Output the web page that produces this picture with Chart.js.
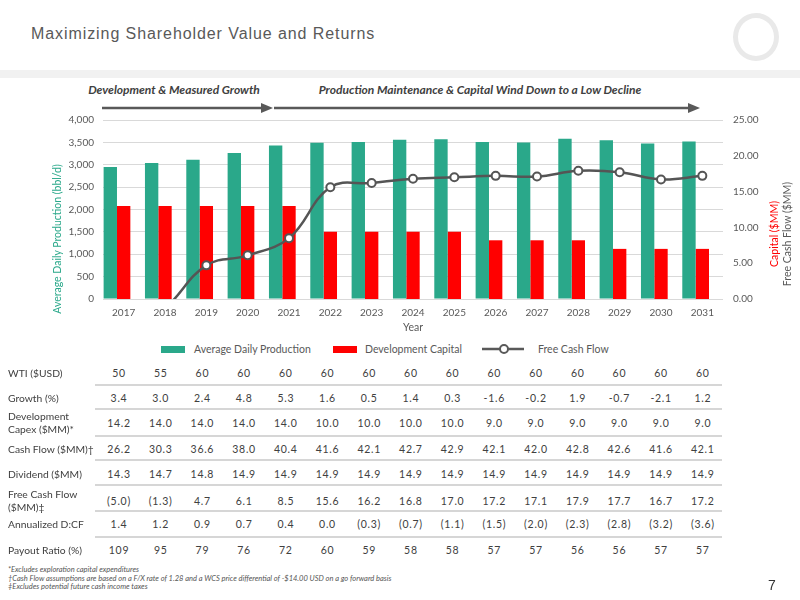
<!DOCTYPE html>
<html>
<head>
<meta charset="utf-8">
<script src="https://cdn.jsdelivr.net/npm/chart.js@4"></script>
<style>
  html, body { margin:0; padding:0; background:#fff; }
  body { width:800px; height:600px; position:relative; overflow:hidden; font-family: Lato, "Open Sans", sans-serif; color:#404040; }
  .abs { position:absolute; white-space:nowrap; }
  #title { left:31px; top:25px; font-family:"Liberation Sans",Arial,sans-serif; font-size:16px; letter-spacing:0.92px; color:#595959; }
  #band { left:0; top:70px; width:800px; height:8px; background:#f1f1f1; }
  #logo { left:733px; top:13px; width:36px; height:38px; border:5.5px solid #e9e9e9; border-radius:50%; }
  .phase { font-weight:bold; font-style:italic; font-size:12px; color:#404040; transform:translate(-50%,-50%); }
  .rot { transform:translate(-50%,-50%) rotate(-90deg); font-size:10.5px; }
  .lg { font-size:10.5px; color:#595959; transform:translateY(-50%); }
  .lbl { font-size:10.3px; color:#404040; left:8px; line-height:13px; transform:translateY(-50%); }
  .val { font-size:10.5px; color:#404040; letter-spacing:0.7px; transform:translate(-50%,-50%); }
  .sep { left:95px; width:627px; height:2px; background:#d6d6d6; }
  .fn { left:8px; font-size:7.5px; font-style:italic; color:#555; transform:translateY(-50%); }
</style>
</head>
<body>
<div id="title" class="abs">Maximizing Shareholder Value and Returns</div>
<div id="logo" class="abs"></div>
<div id="band" class="abs"></div>

<div class="abs phase" style="left:174px;top:89px;">Development &amp; Measured Growth</div>
<div class="abs phase" style="left:480px;top:89px;">Production Maintenance &amp; Capital Wind Down to a Low Decline</div>
<svg class="abs" style="left:0;top:95px;" width="800" height="25">
  <line x1="102" y1="13" x2="266" y2="13" stroke="#595959" stroke-width="2.4"/>
  <polygon points="261,8 273,13 261,18" fill="#595959"/>
  <line x1="274" y1="13" x2="693" y2="13" stroke="#595959" stroke-width="2.4"/>
  <polygon points="688,8 700,13 688,18" fill="#595959"/>
</svg>

<canvas id="c" class="abs" style="left:0;top:100px;" width="800" height="240"></canvas>

<div class="abs rot" style="left:57px;top:239px;color:#2aa88a;">Average Daily Production (bbl/d)</div>
<div class="abs rot" style="left:774px;top:234px;color:#ff0000;">Capital ($MM)</div>
<div class="abs rot" style="left:787px;top:234px;color:#595959;">Free Cash Flow ($MM)</div>

<div id="legend"></div>
<div id="table"></div>

<div class="abs fn" style="top:569px;">*Excludes exploration capital expenditures</div>
<div class="abs fn" style="top:578px;">†Cash Flow assumptions are based on a F/X rate of 1.28 and a WCS price differential of -$14.00 USD on a go forward basis</div>
<div class="abs fn" style="top:586px;">‡Excludes potential future cash income taxes</div>
<div class="abs" style="left:768px;top:577px;font-family:'Liberation Sans',Arial,sans-serif;font-size:14px;color:#333;">7</div>

<script>
// ---- Data ----
const years = ['2017','2018','2019','2020','2021','2022','2023','2024','2025','2026','2027','2028','2029','2030','2031'];
const production = [2950, 3040, 3110, 3260, 3430, 3490, 3510, 3560, 3570, 3510, 3500, 3580, 3550, 3475, 3520];
const capital = [13.0, 13.0, 13.0, 13.0, 13.0, 9.4, 9.4, 9.4, 9.4, 8.2, 8.2, 8.2, 7.0, 7.0, 7.0];
const freeCashFlow = [-5.0, -1.3, 4.7, 6.1, 8.5, 15.6, 16.2, 16.8, 17.0, 17.2, 17.1, 17.9, 17.7, 16.7, 17.2];
const spacer = years.map(() => null);

const wti = [50, 55, 60, 60, 60, 60, 60, 60, 60, 60, 60, 60, 60, 60, 60];
const growth = [3.4, 3.0, 2.4, 4.8, 5.3, 1.6, 0.5, 1.4, 0.3, -1.6, -0.2, 1.9, -0.7, -2.1, 1.2];
const devCapex = [14.2, 14.0, 14.0, 14.0, 14.0, 10.0, 10.0, 10.0, 10.0, 9.0, 9.0, 9.0, 9.0, 9.0, 9.0];
const cashFlow = [26.2, 30.3, 36.6, 38.0, 40.4, 41.6, 42.1, 42.7, 42.9, 42.1, 42.0, 42.8, 42.6, 41.6, 42.1];
const dividend = [14.3, 14.7, 14.8, 14.9, 14.9, 14.9, 14.9, 14.9, 14.9, 14.9, 14.9, 14.9, 14.9, 14.9, 14.9];
const fcfTable = freeCashFlow;
const dcf = [1.4, 1.2, 0.9, 0.7, 0.4, 0.0, -0.3, -0.7, -1.1, -1.5, -2.0, -2.3, -2.8, -3.2, -3.6];
const payout = [109, 95, 79, 76, 72, 60, 59, 58, 58, 57, 57, 56, 56, 57, 57];

const rowLabels = [['WTI ($USD)'], ['Growth (%)'], ['Development', 'Capex ($MM)*'], ['Cash Flow ($MM)†'], ['Dividend ($MM)'], ['Free Cash Flow', '($MM)‡'], ['Annualized D:CF'], ['Payout Ratio (%)']];
const legendLabels = ['Average Daily Production', 'Development Capital', 'Free Cash Flow'];

// ---- Styles ----
const TEAL = '#2aa88a', RED = '#ff0000', GREY = '#595959';
const FONT = 'Lato, "Open Sans", sans-serif';

const fmt1 = v => v.toFixed(1);
const paren = v => v < 0 ? '(' + Math.abs(v).toFixed(1) + ')' : v.toFixed(1);
const rows = [
  { vals: wti, f: v => String(v) },
  { vals: growth, f: fmt1 },
  { vals: devCapex, f: fmt1 },
  { vals: cashFlow, f: fmt1 },
  { vals: dividend, f: fmt1 },
  { vals: fcfTable, f: paren },
  { vals: dcf, f: paren },
  { vals: payout, f: v => String(v) }
];
const rowY = [373, 398, 423, 449, 474, 501, 524, 550];
const sepY = [385, 409, 436, 460, 485, 511, 537];

// table
const tbl = document.getElementById('table');
let html = '';
rows.forEach((r, i) => {
  html += `<div class="abs lbl" style="top:${rowY[i]}px;">${rowLabels[i].join('<br>')}</div>`;
  r.vals.forEach((v, j) => {
    const x = 119 + j * 41.7;
    html += `<div class="abs val" style="left:${x}px;top:${rowY[i]}px;">${r.f(v)}</div>`;
  });
});
sepY.forEach(y => { html += `<div class="abs sep" style="top:${y - 1}px;"></div>`; });
tbl.innerHTML = html;

// legend
document.getElementById('legend').innerHTML =
  `<div class="abs" style="left:161px;top:346px;width:24px;height:7px;background:${TEAL};"></div>` +
  `<div class="abs lg" style="left:194px;top:349px;">${legendLabels[0]}</div>` +
  `<div class="abs" style="left:333px;top:346px;width:24px;height:7px;background:${RED};"></div>` +
  `<div class="abs lg" style="left:365px;top:349px;">${legendLabels[1]}</div>` +
  `<svg class="abs" style="left:480px;top:342px;" width="48" height="14"><line x1="2" y1="7" x2="44" y2="7" stroke="${GREY}" stroke-width="2.4"/><circle cx="24" cy="7" r="4" fill="#fff" stroke="${GREY}" stroke-width="2"/></svg>` +
  `<div class="abs lg" style="left:538px;top:349px;">${legendLabels[2]}</div>`;

// chart
new Chart(document.getElementById('c'), {
  type: 'bar',
  data: {
    labels: years,
    datasets: [
      { label: legendLabels[2], type: 'line', data: freeCashFlow, yAxisID: 'y1', order: 0,
        borderColor: '#555555', borderWidth: 2.5, tension: 0.4, fill: false,
        pointRadius: 4, pointBorderWidth: 2, pointBackgroundColor: '#ffffff', pointBorderColor: '#555555' },
      { label: legendLabels[0], data: production, yAxisID: 'y', backgroundColor: TEAL, order: 1,
        categoryPercentage: 0.97, barPercentage: 1.0 },
      { label: legendLabels[1], data: capital, yAxisID: 'y1', backgroundColor: RED, order: 1,
        categoryPercentage: 0.97, barPercentage: 1.0 },
      { label: 'spacer', data: spacer, yAxisID: 'y1', backgroundColor: 'rgba(0,0,0,0)', order: 1,
        categoryPercentage: 0.97, barPercentage: 1.0 }
    ]
  },
  options: {
    responsive: false,
    animation: false,
    layout: { padding: { top: 20, left: 0, right: 0, bottom: 0 } },
    plugins: { legend: { display: false }, tooltip: { enabled: false } },
    scales: {
      x: {
        grid: { display: false, drawTicks: false },
        border: { display: false },
        ticks: { color: GREY, font: { family: FONT, size: 10 }, padding: 8, maxRotation: 0 },
        title: { display: true, text: 'Year', color: GREY, font: { family: FONT, size: 10.5 }, padding: { top: 0, bottom: 6 } },
        afterFit: s => { s.height = 41; }
      },
      y: {
        position: 'left', min: 0, max: 4000,
        grid: { color: '#d9d9d9', drawTicks: false, lineWidth: 1 },
        border: { display: false },
        ticks: { stepSize: 500, color: GREY, font: { family: FONT, size: 10 }, padding: 9,
                 callback: v => v.toLocaleString('en-US') },
        afterFit: s => { s.width = 103; }
      },
      y1: {
        position: 'right', min: 0, max: 25,
        grid: { display: false, drawTicks: false },
        border: { display: false },
        ticks: { stepSize: 5, color: GREY, font: { family: FONT, size: 10 }, padding: 10,
                 callback: v => v.toFixed(2) },
        afterFit: s => { s.width = 77; }
      }
    }
  }
});
</script>
</body>
</html>
